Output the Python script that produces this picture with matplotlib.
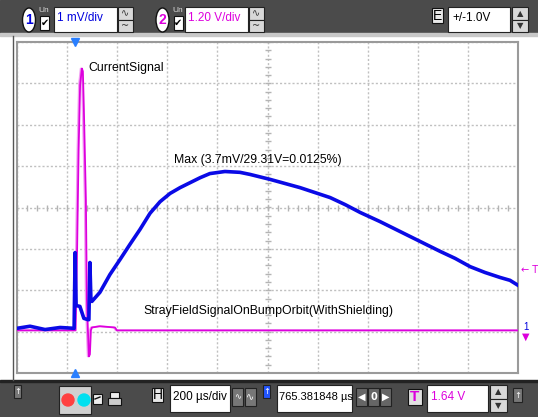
import numpy as np
import matplotlib.pyplot as plt
from matplotlib.patches import Rectangle, Ellipse, Circle

plt.rcParams['font.family'] = ['Liberation Sans', 'DejaVu Sans']

# Canal 1 (azul, 1 mV/div) - tiempo en us, amplitud en divisiones
t_ch1 = [0, 52, 112, 172, 228, 232, 236, 251, 267, 283, 287, 291, 295, 299, 331,
         371, 411, 451, 491, 531, 571, 611, 651, 691, 731, 770, 830, 890, 930,
         1010, 1070, 1130, 1190, 1250, 1310, 1370, 1449, 1529, 1609, 1689, 1749,
         1809, 1868, 1928, 1968, 2000]
y_ch1 = [-2.92, -2.87, -2.95, -2.90, -2.92, -1.09, -2.37, -2.39, -2.68, -2.71,
         -2.71, -1.33, -2.22, -2.27, -2.05, -1.62, -1.26, -0.89, -0.53, -0.14,
         0.14, 0.34, 0.48, 0.60, 0.72, 0.82, 0.87, 0.85, 0.80, 0.68, 0.58, 0.48,
         0.36, 0.24, 0.07, -0.12, -0.34, -0.58, -0.82, -1.06, -1.23, -1.43,
         -1.57, -1.69, -1.76, -1.88]

# Canal 2 (magenta, 1.20 V/div)
t_ch2 = [0, 234, 240, 246, 252, 259, 263, 267, 275, 279, 283, 287, 291, 295,
         299, 331, 391, 399, 2000]
y_ch2 = [-2.97, -2.97, -1.00, 1.40, 2.97, 3.36, 3.29, 2.37, 0.19, -2.22, -2.95,
         -3.60, -3.55, -2.97, -2.90, -2.87, -2.90, -2.97, -2.97]

trig_t = 232

W, H = 538, 417
fig = plt.figure(figsize=(W / 100, H / 100), dpi=100)
fig.patch.set_facecolor('white')

# Fondo / barras de herramientas (coordenadas en pixeles)
bg = fig.add_axes([0, 0, 1, 1], zorder=0)
bg.set_xlim(0, W)
bg.set_ylim(H, 0)
bg.axis('off')

dark = '#4b4b4b'
bg.add_patch(Rectangle((0, 0), W, 33, color=dark))
bg.add_patch(Rectangle((0, 33), W, 3, color='#c8c8c8'))
bg.add_patch(Rectangle((0, 382), W, 35, color=dark))
bg.add_patch(Rectangle((0, 380), W, 2, color='#222222'))
bg.plot([13, 13], [36, 380], color='#555555', lw=1)


def box(x, y, w, h, fc='white', ec='#222222'):
    bg.add_patch(Rectangle((x, y), w, h, fc=fc, ec=ec, lw=0.8))


def updown(x, y, w, h):
    box(x, y, w, h / 2, fc='#d8d8d8', ec='#222222')
    box(x, y + h / 2, w, h / 2, fc='#d8d8d8', ec='#222222')
    bg.text(x + w / 2, y + h / 4, '▲', ha='center', va='center', fontsize=6,
            color='#333333', family='DejaVu Sans')
    bg.text(x + w / 2, y + 3 * h / 4, '▼', ha='center', va='center', fontsize=6,
            color='#333333', family='DejaVu Sans')


def wavebtn(x, y, w, h):
    box(x, y, w, h / 2, fc='#d8d8d8', ec='#222222')
    box(x, y + h / 2, w, h / 2, fc='#d8d8d8', ec='#222222')
    bg.text(x + w / 2, y + h / 4, '∿', ha='center', va='center', fontsize=7,
            color='#333333', family='DejaVu Sans')
    bg.text(x + w / 2, y + 3 * h / 4, '~', ha='center', va='center', fontsize=7,
            color='#333333', family='DejaVu Sans')


# barra superior
for cx, num, col, bx, lab in [(29, '1', '#0000dd', 54, '1 mV/div'),
                              (162.5, '2', '#dd00dd', 185, '1.20 V/div')]:
    bg.add_patch(Ellipse((cx, 20), 13, 24, fc='white', ec='#111111', lw=1))
    bg.text(cx, 20, num, ha='center', va='center', fontsize=10, color=col,
            weight='bold')
    bx0 = cx + 11
    bg.text(bx0 + 4, 10, 'Un', ha='center', va='center', fontsize=6,
            color='#dddddd')
    box(bx0, 16, 9, 14, fc='white', ec='#111111')
    bg.text(bx0 + 4.5, 23, '✔', ha='center', va='center', fontsize=7,
            color='black', family='DejaVu Sans')
    box(bx, 7, 63, 25)
    bg.text(bx + 3, 18, lab, ha='left', va='center', fontsize=8.5, color=col)
    wavebtn(bx + 64, 7, 15, 25)

box(432, 8, 11, 15, fc='#e8e8e8', ec='#111111')
bg.text(437.5, 15.5, 'E', ha='center', va='center', fontsize=10, color='black')
box(448, 7, 62, 25)
bg.text(452, 18, '+/-1.0V', ha='left', va='center', fontsize=8.5, color='black')
updown(512, 7, 16, 25)

# barra inferior
box(14, 385, 7, 13, fc='#777777', ec='#222222')
bg.text(17.5, 391, '↑', ha='center', va='center', fontsize=6, color='white',
        family='DejaVu Sans')
box(59, 386, 32, 28, fc='#d0d0d0', ec='#222222')
bg.add_patch(Circle((68, 400), 6, color='#ff4040'))
bg.add_patch(Circle((84, 400), 6, color='#00e0f0'))
box(93, 394, 9, 10, fc='#eeeeee', ec='#111111')
bg.plot([95, 100], [399, 397], color='#111111', lw=1)
# icono de impresora
box(110, 392, 9, 6, fc='#eeeeee', ec='#111111')
box(108, 398, 13, 7, fc='#cccccc', ec='#111111')
box(152, 388, 11, 14, fc='#e8e8e8', ec='#111111')
bg.text(157.5, 395, 'H', ha='center', va='center', fontsize=10, color='black')
box(170, 385, 60, 27)
bg.text(173, 397, '200 µs/div', ha='left', va='center', fontsize=8.5,
        color='black')
box(232, 388, 11, 18, fc='#777777')
box(245, 388, 11, 18, fc='#777777')
bg.text(237.5, 397, '∿', ha='center', va='center', fontsize=6, color='white',
        family='DejaVu Sans')
bg.text(250.5, 397, '∿', ha='center', va='center', fontsize=7, color='white',
        family='DejaVu Sans')
box(263, 385, 7, 13, fc='#2255ff', ec='#222222')
bg.text(266.5, 391, '↑', ha='center', va='center', fontsize=6, color='white',
        family='DejaVu Sans')
box(277, 385, 75, 27)
bg.text(279, 397, '765.381848 µs', ha='left', va='center', fontsize=8,
        color='black')
for xb, s in [(356, '◀'), (368, '0'), (380, '▶')]:
    box(xb, 388, 11, 18, fc='#666666')
    bg.text(xb + 5.5, 397, s, ha='center', va='center', fontsize=7,
            color='white', family='DejaVu Sans', weight='bold')
box(408, 389, 14, 16, fc='#e0e0e0', ec='#111111')
bg.text(415, 397, 'T', ha='center', va='center', fontsize=11, color='#dd00dd',
        weight='bold')
box(427, 385, 61, 27)
bg.text(431, 397, '1.64 V', ha='left', va='center', fontsize=8.5,
        color='#dd00dd')
updown(490, 385, 17, 27)
box(513, 388, 9, 14, fc='#777777', ec='#222222')
bg.text(517.5, 395, '↑', ha='center', va='center', fontsize=6, color='white',
        family='DejaVu Sans')

# Pantalla del osciloscopio
ax = fig.add_axes([17 / W, 1 - 373 / H, 501 / W, 331 / H], zorder=1)
ax.set_facecolor('white')
ax.set_xlim(0, 2000)
ax.set_ylim(-4, 4)
ax.set_xticks(np.arange(0, 2001, 200))
ax.set_yticks(np.arange(-4, 5, 1))
ax.tick_params(length=0, labelbottom=False, labelleft=False)
ax.grid(True, color='#c0c0c0', linestyle=(0, (1.5, 1.5)), linewidth=1)
for s in ax.spines.values():
    s.set_color('#9a9a9a')
    s.set_linewidth(1.5)

# marcas de la cruz central
mt = np.arange(0, 2001, 40)
ax.plot(mt, np.zeros_like(mt), linestyle='none', marker='|', markersize=4,
        color='#b4b4b4', mew=1)
mv = np.arange(-4, 4.01, 0.2)
ax.plot(np.full_like(mv, 1000), mv, linestyle='none', marker='_', markersize=4,
        color='#b4b4b4', mew=1)

ax.plot(np.array(t_ch2) - 5, y_ch2, color='#f39cf3', lw=1.2, zorder=3)
ax.plot(t_ch2, y_ch2, color='#dd00dd', lw=1.3, zorder=4)
ax.plot(t_ch1, y_ch1, color='#0a0ae6', lw=2.6, zorder=5)

ax.text(283, 3.38, 'CurrentSignal', fontsize=8.8, va='center', ha='left',
        color='black', zorder=6)
ax.text(627, 1.16, 'Max (3.7mV/29.31V=0.0125%)', fontsize=8.8, va='center',
        ha='left', color='black', zorder=6)
ax.text(503, -2.49, 'StrayFieldSignalOnBumpOrbit(WithShielding)', fontsize=8.8,
        va='center', ha='left', color='black', zorder=6)

# marcadores de disparo
ax.plot([trig_t], [1], transform=ax.get_xaxis_transform(), marker='v',
        color='#2a7fff', markersize=6, clip_on=False, zorder=7)
ax.plot([trig_t], [0], transform=ax.get_xaxis_transform(), marker='^',
        color='#2a7fff', markersize=6, clip_on=False, zorder=7)

# indicadores del lado derecho
bg.text(521, 270, '← T', ha='left', va='center', fontsize=7, color='#dd00dd',
        family='DejaVu Sans', zorder=8)
bg.text(523, 327, '1', ha='left', va='center', fontsize=7, color='#0000dd',
        zorder=8)
bg.text(526, 337, '▼', ha='center', va='center', fontsize=7, color='#dd00dd',
        family='DejaVu Sans', zorder=8)

fig.savefig('out.png', dpi=100)
